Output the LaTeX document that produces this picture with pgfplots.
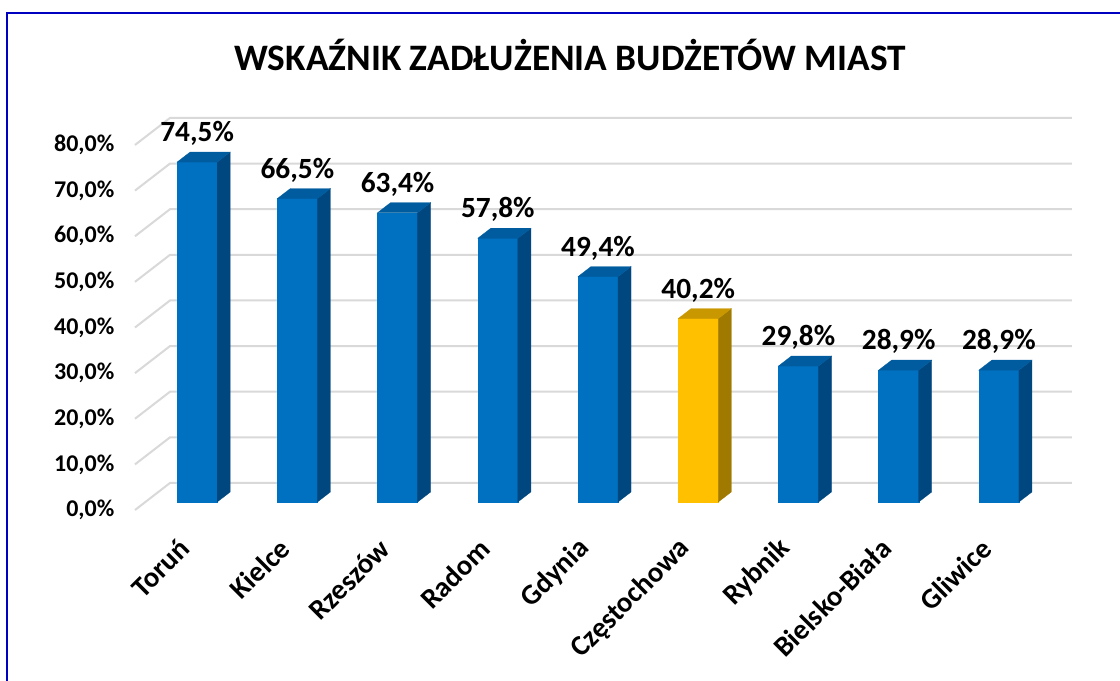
\documentclass[border=0pt]{standalone}
\usepackage{pgfplots}
\pgfplotsset{compat=1.18}
\usepackage{pgfplotstable}
\usepackage{fontspec}
\setmainfont{Carlito}
\definecolor{bfront}{HTML}{0070C0}
\definecolor{bside}{HTML}{00477F}
\definecolor{btop}{HTML}{005C9E}
\definecolor{gfront}{HTML}{FFC000}
\definecolor{gside}{HTML}{A07A00}
\definecolor{gtop}{HTML}{C99800}
\definecolor{gridc}{HTML}{D9D9D9}
\definecolor{frame}{HTML}{0000C0}
\pgfplotstableread{
x v
0 74.5
1 66.5
2 63.4
3 57.8
4 49.4
5 40.2
6 29.8
7 28.9
8 28.9
}\datatable
% xl, xr, xbr, xbl, F, S, front, side, top
\newcommand{\cube}[9]{%
\addplot[fill=#7, draw=#7, line width=0.2pt] coordinates {(#1,1.75) (#2,1.75) (#2,#5) (#1,#5)} -- cycle;
\addplot[fill=#8, draw=#8, line width=0.2pt] coordinates {(#2,1.75) (#3,3.95) (#3,#6) (#2,#5)} -- cycle;
\addplot[fill=#9, draw=#9, line width=0.2pt] coordinates {(#1,#5) (#2,#5) (#3,#6) (#4,#6)} -- cycle;
}
\begin{document}
\begin{tikzpicture}
\useasboundingbox (0,0) rectangle (840pt,510.75pt);
\fill[white] (0,0) rectangle (840pt,510.75pt);
\draw[frame, line width=1.5pt] (5.25pt,-10pt) -- (5.25pt,501pt) -- (850pt,501pt);
\node[anchor=base, font=\bfseries\fontsize{28}{32}\selectfont] at (427.5pt,458pt) {WSKAŹNIK ZADŁUŻENIA BUDŻETÓW MIAST};
\begin{axis}[
  at={(101.25pt,128.25pt)}, anchor=south west,
  scale only axis, width=702.7pt, height=294.3pt,
  xmin=-0.5, xmax=8.849, ymin=0, ymax=86,
  axis line style={draw=none}, major tick length=0pt,
  clip=false,
  xtick={0,...,8},
  xticklabels={Toruń,Kielce,Rzeszów,Radom,Gdynia,Częstochowa,Rybnik,Bielsko-Biała,Gliwice},
  ytick={0,10,...,80},
  yticklabels={{0,0\%},{10,0\%},{20,0\%},{30,0\%},{40,0\%},{50,0\%},{60,0\%},{70,0\%},{80,0\%}},
  yticklabel style={font=\bfseries\fontsize{18}{21}\selectfont, anchor=east, xshift=-12pt},
  xticklabel style={font=\bfseries\fontsize{21.5}{25}\selectfont, xshift=2pt, yshift=-23pt, rotate=45, anchor=east},
  /pgf/number format/assume math mode=true,
]
% gridlines (front-left diagonal + back wall)
\addplot[gridc, line width=1.5pt] coordinates {(-0.5,0) (-0.151,5.92) (8.849,5.92)};
\addplot[gridc, line width=1.5pt] coordinates {(-0.5,10) (-0.151,15.92) (8.849,15.92)};
\addplot[gridc, line width=1.5pt] coordinates {(-0.5,20) (-0.151,25.92) (8.849,25.92)};
\addplot[gridc, line width=1.5pt] coordinates {(-0.5,30) (-0.151,35.92) (8.849,35.92)};
\addplot[gridc, line width=1.5pt] coordinates {(-0.5,40) (-0.151,45.92) (8.849,45.92)};
\addplot[gridc, line width=1.5pt] coordinates {(-0.5,50) (-0.151,55.92) (8.849,55.92)};
\addplot[gridc, line width=1.5pt] coordinates {(-0.5,60) (-0.151,65.92) (8.849,65.92)};
\addplot[gridc, line width=1.5pt] coordinates {(-0.5,70) (-0.151,75.92) (8.849,75.92)};
\addplot[gridc, line width=1.5pt] coordinates {(-0.5,80) (-0.151,85.92) (8.849,85.92)};
% bars: value v -> front top = v+1.75, back top = v+3.95
\cube{-0.08}{0.32}{0.45}{0.05}{76.25}{78.45}{bfront}{bside}{btop}
\cube{0.92}{1.32}{1.45}{1.05}{68.25}{70.45}{bfront}{bside}{btop}
\cube{1.92}{2.32}{2.45}{2.05}{65.15}{67.35}{bfront}{bside}{btop}
\cube{2.92}{3.32}{3.45}{3.05}{59.55}{61.75}{bfront}{bside}{btop}
\cube{3.92}{4.32}{4.45}{4.05}{51.15}{53.35}{bfront}{bside}{btop}
\cube{4.92}{5.32}{5.45}{5.05}{41.95}{44.15}{gfront}{gside}{gtop}
\cube{5.92}{6.32}{6.45}{6.05}{31.55}{33.75}{bfront}{bside}{btop}
\cube{6.92}{7.32}{7.45}{7.05}{30.65}{32.85}{bfront}{bside}{btop}
\cube{7.92}{8.32}{8.45}{8.05}{30.65}{32.85}{bfront}{bside}{btop}
% data labels
\addplot[draw=none, mark=none, point meta=\thisrow{v},
  nodes near coords={\pgfmathprintnumber[fixed, fixed zerofill, precision=1, use comma]{\pgfplotspointmeta}\%},
  nodes near coords style={anchor=base, font=\bfseries\fontsize{22}{25}\selectfont, inner sep=0pt}]
  table[x expr=\thisrow{x}+0.12, y expr=\thisrow{v}+6.2] {\datatable};
\end{axis}
\end{tikzpicture}
\end{document}
